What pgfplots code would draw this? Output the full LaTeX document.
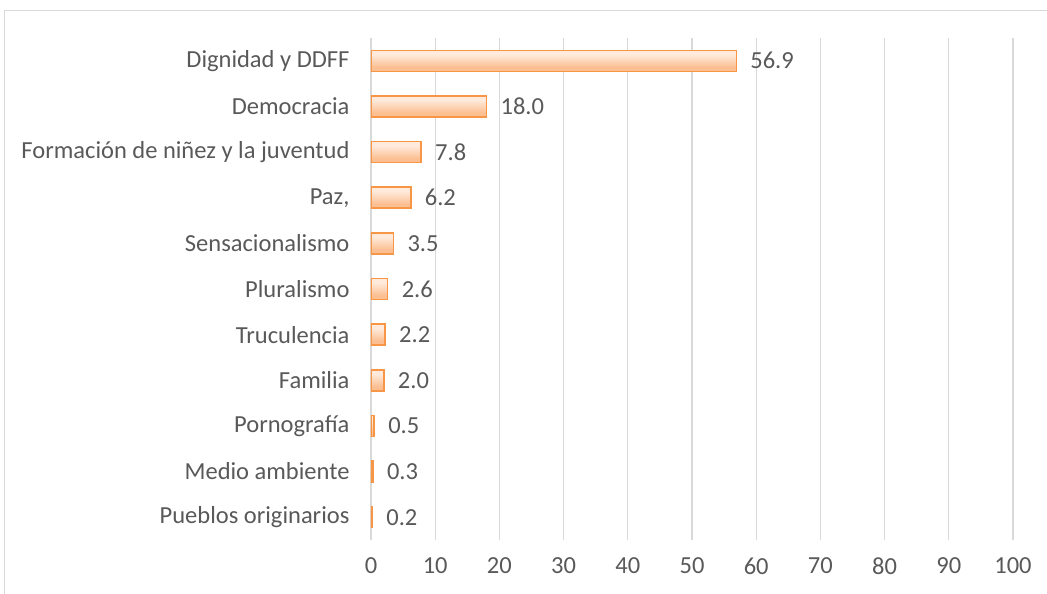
\documentclass[border=0pt]{standalone}
\usepackage{pgfplots}
\pgfplotsset{compat=1.18}
\usepackage{fontspec}
\setmainfont{Carlito}
\definecolor{txt}{HTML}{595959}
\definecolor{gridc}{HTML}{D9D9D9}
\definecolor{barline}{HTML}{F79646}
\definecolor{bartop}{HTML}{FFEADB}
\definecolor{barbot}{HTML}{FBBF92}
\pgfdeclareverticalshading{barshade}{100bp}{color(0bp)=(barbot); color(35bp)=(barbot); color(65bp)=(bartop); color(100bp)=(bartop)}
\tikzset{mybar/.style={draw=barline, line width=1.5pt, shade, shading=barshade}}
\begin{document}
\begin{tikzpicture}[x=1pt,y=1pt]
\useasboundingbox (0,0) rectangle (1047,594);
\begin{scope}
\clip (0,0) rectangle (1047,594);
\draw[gridc, line width=1pt] (4.5,-20) -- (4.5,583.5) -- (1080,583.5);
\end{scope}
\begin{axis}[
    at={(371pt,54pt)}, anchor=south west,
    scale only axis,
    width=642pt, height=502pt,
    xbar, bar width=21pt, bar shift=0pt,
    xmin=0, xmax=100,
    ymin=-0.5, ymax=10.5,
    xtick={0,10,...,100},
    ytick={0,...,10},
    yticklabels={Pueblos originarios, Medio ambiente, Pornografía, Familia,
      Truculencia, Pluralismo, Sensacionalismo, {Paz,},
      Formación de niñez y la juventud, Democracia, Dignidad y DDFF},
    axis line style={draw=none},
    major tick length=0pt,
    xmajorgrids, grid style={gridc, line width=1.3pt},
    tick label style={font=\fontsize{24.5}{28}\selectfont, text=txt},
    xticklabel style={yshift=-14pt},
    yticklabel style={xshift=-18pt},
    /pgf/number format/assume math mode=true,
    nodes near coords,
    nodes near coords style={font=\fontsize{24.5}{28}\selectfont, text=txt,
      anchor=west, xshift=10pt,
      /pgf/number format/.cd, fixed, fixed zerofill, precision=1,
      assume math mode=true},
]
% one bar per plot so each bar gets its own shading
\addplot[mybar] coordinates {(0.2,0)};
\addplot[mybar] coordinates {(0.3,1)};
\addplot[mybar] coordinates {(0.5,2)};
\addplot[mybar] coordinates {(2.0,3)};
\addplot[mybar] coordinates {(2.2,4)};
\addplot[mybar] coordinates {(2.6,5)};
\addplot[mybar] coordinates {(3.5,6)};
\addplot[mybar] coordinates {(6.2,7)};
\addplot[mybar] coordinates {(7.8,8)};
\addplot[mybar] coordinates {(18.0,9)};
\addplot[mybar] coordinates {(56.9,10)};
\end{axis}
\end{tikzpicture}
\end{document}
